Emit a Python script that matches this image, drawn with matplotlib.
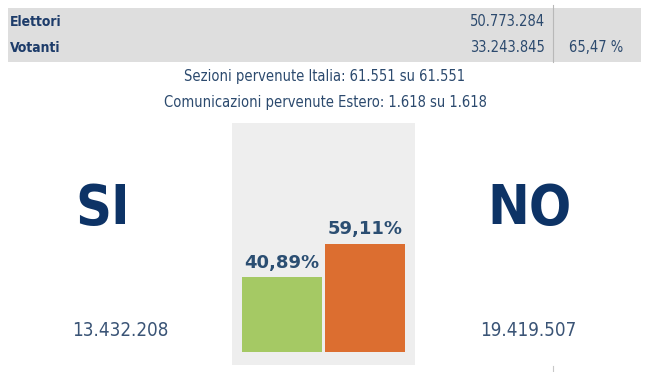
import matplotlib
matplotlib.use('Agg')
import matplotlib.pyplot as plt
from matplotlib.patches import Rectangle

plt.rcParams['font.family'] = ['DejaVu Sans']

# data
row_labels = ['Elettori', 'Votanti']
row_values = ['50.773.284', '33.243.845']
turnout = '65,47 %'
info_lines = ['Sezioni pervenute Italia: 61.551 su 61.551',
              'Comunicazioni pervenute Estero: 1.618 su 1.618']
choices = ['SI', 'NO']
votes = ['13.432.208', '19.419.507']
percents = [40.89, 59.11]
bar_colors = ['#a5c964', '#dc6e30']

W, H = 650, 372
fig = plt.figure(figsize=(W / 100, H / 100), dpi=100)
ax = fig.add_axes([0, 0, 1, 1])
ax.set_xlim(0, W)
ax.set_ylim(H, 0)
ax.axis('off')

navy = '#0d3366'
text_blue = '#2c4a6e'

# top table
ax.add_patch(Rectangle((8, 8), 633, 54, color='#dedede', lw=0))
ax.plot([553, 553], [5, 62], color='#b8b8b8', lw=0.8)
for i, (lab, val) in enumerate(zip(row_labels, row_values)):
    y = 22 + i * 26
    ax.text(10, y, lab, fontsize=10, fontweight='bold', color='#1d3c6a',
            va='center', ha='left', fontstretch='condensed')
    ax.text(545, y, val, fontsize=10.5, color=text_blue, va='center', ha='right',
            fontstretch='condensed')
ax.text(596, 48, turnout, fontsize=10.5, color=text_blue, va='center', ha='center',
        fontstretch='condensed')

for i, line in enumerate(info_lines):
    ax.text(325, 76 + i * 27, line, fontsize=10.5, color=text_blue,
            va='center', ha='center', fontstretch='condensed')

# SI / NO
for x, ch, v in zip([103, 530], choices, votes):
    ax.text(x, 209, ch, fontsize=40, fontweight='bold', color=navy,
            va='center', ha='center', fontstretch='condensed')
    ax.text(x + (17 if ch == 'SI' else -2), 330, v, fontsize=13.5,
            color='#3a5476', va='center', ha='center', fontstretch='condensed')

ax.plot([553, 553], [366, 372], color='#c8c8c8', lw=0.8)

# bar panel
bx = fig.add_axes([232 / W, (H - 365) / H, 183 / W, 242 / H])
bx.set_facecolor('#eeeeee')
for s in bx.spines.values():
    s.set_visible(False)
bx.set_xticks([])
bx.set_yticks([])
bx.set_xlim(-0.602, 1.602)
bx.set_ylim(-7.1, 125.1)
pos = [0, 1]
bx.bar(pos, percents, width=0.964, color=bar_colors)
for p, v in zip(pos, percents):
    bx.text(p, v + 3, f'{v:.2f}%'.replace('.', ','), fontsize=13,
            fontweight='bold', color='#2b4e72', ha='center', va='bottom')

fig.savefig('out.png', dpi=100)
